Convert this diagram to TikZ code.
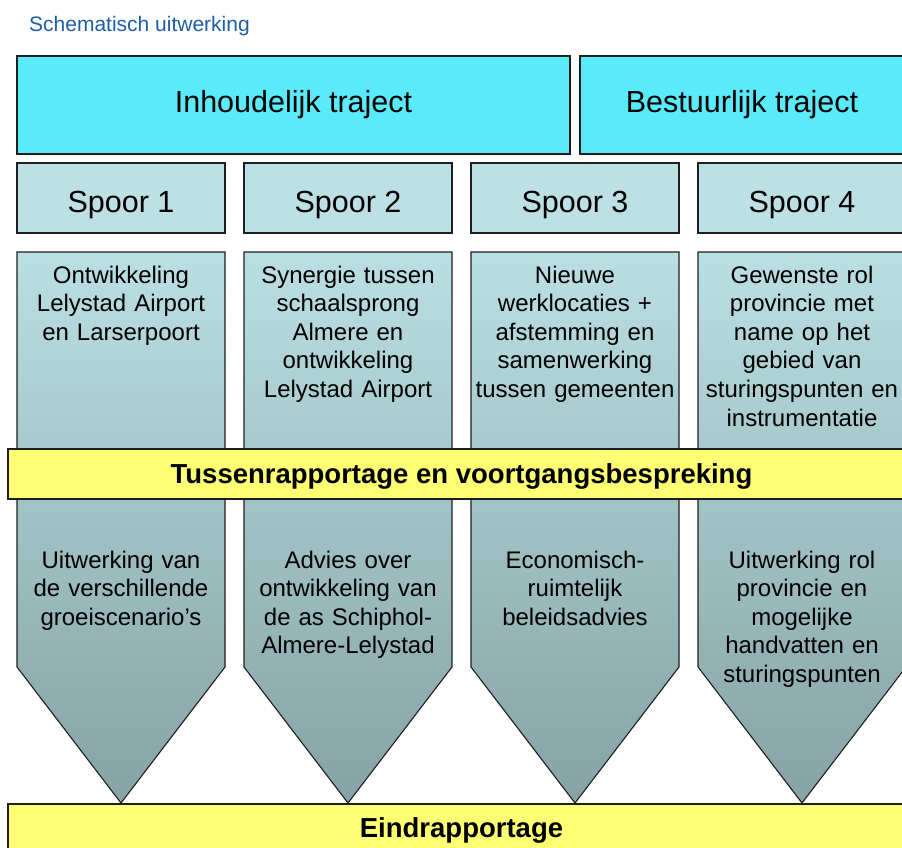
\documentclass[tikz,border=0pt]{standalone}
\usepackage{fontspec}
\setmainfont{Liberation Sans}

\definecolor{traject}{HTML}{5AEBFA}
\definecolor{spoor}{HTML}{BCE0E3}
\definecolor{kolomtop}{HTML}{BADFE2}
\definecolor{kolombodem}{HTML}{86A2A4}
\definecolor{balk}{HTML}{FFFF73}
\definecolor{rand}{HTML}{1E1E1E}
\definecolor{kop}{HTML}{1F5DA8}

\tikzset{
  lijn/.style={draw=rand, line width=1.1pt},
  trajectbox/.style={lijn, fill=traject, inner sep=0pt, minimum height=98pt,
    font=\fontsize{30.5}{36}\selectfont},
  spoorbox/.style={lijn, fill=spoor, inner sep=0pt, minimum width=208pt,
    minimum height=70pt, text height=28pt, text depth=0pt,
    font=\fontsize{30.5}{36}\selectfont},
  kolomtekst/.style={text width=206pt, align=center, inner sep=0pt, anchor=base,
    font=\fontsize{24}{28.6}\selectfont},
  balkbox/.style={lijn, fill=balk, inner sep=0pt, minimum width=907pt,
    text height=20pt, text depth=2pt, font=\bfseries\fontsize{27.5}{32}\selectfont},
}

\begin{document}
\begin{tikzpicture}[x=1pt,y=-1pt]
  \useasboundingbox (0,0) rectangle (902,848);
  \clip (0,0) rectangle (902,848);

  \node[anchor=base west, inner sep=0pt, text=kop, font=\fontsize{21}{25}\selectfont]
    (titel) at (29,32) {Schematisch uitwerking};

  % trajecten
  \node[trajectbox, minimum width=553pt] (inhoud) at (293.5,105) {Inhoudelijk traject};
  \node[trajectbox, minimum width=324pt] (bestuur) at (742,105) {Bestuurlijk traject};

  % sporen: kop en pijl naar de eindrapportage
  \foreach \x/\n in {121/1,348/2,575/3,802/4}{
    \draw[lijn, top color=kolomtop, bottom color=kolombodem]
      (\x-104,252) -- (\x+104,252) -- (\x+104,667) -- (\x,803)
      -- (\x-104,667) -- cycle;
    \node[spoorbox] (spoor\n) at (\x,198) {Spoor \n};
  }

  % eerste fase
  \node[kolomtekst] (fase1a) at (121,283) {Ontwikkeling\\Lelystad Airport\\en Larserpoort};
  \node[kolomtekst] (fase1b) at (348,283) {Synergie tussen\\schaalsprong\\Almere en\\ontwikkeling\\Lelystad Airport};
  \node[kolomtekst] (fase1c) at (575,283) {Nieuwe\\werklocaties +\\afstemming en\\samenwerking\\tussen gemeenten};
  \node[kolomtekst] (fase1d) at (802,283) {Gewenste rol\\provincie met\\name op het\\gebied van\\sturingspunten en\\instrumentatie};

  \node[balkbox, minimum height=50pt] (tussen) at (461.5,474)
    {Tussenrapportage en voortgangsbespreking};

  % tweede fase
  \node[kolomtekst] (fase2a) at (121,568) {Uitwerking van\\de verschillende\\groeiscenario’s};
  \node[kolomtekst] (fase2b) at (348,568) {Advies over\\ontwikkeling van\\de as Schiphol-\\Almere-Lelystad};
  \node[kolomtekst] (fase2c) at (575,568) {Economisch-\\ruimtelijk\\beleidsadvies};
  \node[kolomtekst] (fase2d) at (802,568) {Uitwerking rol\\provincie en\\mogelijke\\handvatten en\\sturingspunten};

  \node[balkbox, minimum height=48pt] (eind) at (461.5,828) {Eindrapportage};
\end{tikzpicture}
\end{document}
